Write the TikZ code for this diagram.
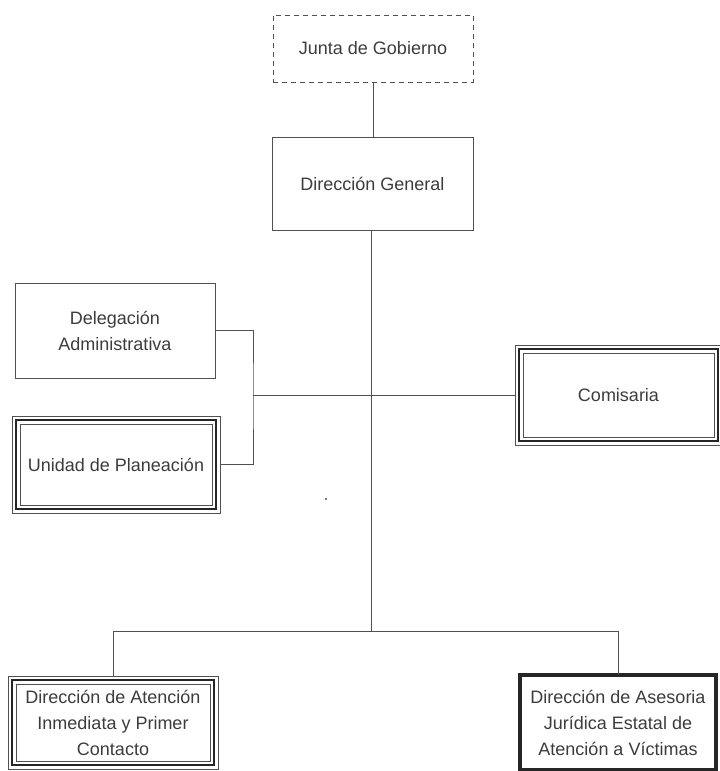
\documentclass[tikz,border=0pt]{standalone}
\usepackage{fontspec}
\setmainfont{Liberation Sans}
\definecolor{ln}{HTML}{505050}
\definecolor{tx}{HTML}{3C3C3C}
\begin{document}
\begin{tikzpicture}[x=1pt,y=-1pt,
  box/.style={draw=ln,line width=0.9pt,rectangle,inner sep=0pt,outer sep=0pt,
    align=center,text=tx,font=\fontsize{18}{26}\selectfont},
  conn/.style={draw=ln,line width=0.9pt},
  thickline/.style={draw=black!85,line width=2pt},
  thinline/.style={draw=ln,line width=0.7pt}]
\useasboundingbox (0,0) rectangle (720,771);

\node[box,dashed,dash pattern=on 5pt off 4pt,minimum width=200pt,minimum height=67pt] (junta) at (373,48.5) {Junta de Gobierno};
\node[box,minimum width=201pt,minimum height=93pt] (dg) at (372.5,183.5) {Dirección General};
\node[box,minimum width=200pt,minimum height=95pt] (del) at (115,330.5) {Delegación\\Administrativa};
\node[box,thinline,minimum width=208pt,minimum height=97pt] (uni) at (116,464.5) {Unidad de Planeación};
\node[box,thinline,minimum width=207pt,minimum height=100pt] (com) at (618.5,395) {Comisaria};
\node[box,thinline,minimum width=210pt,minimum height=93pt] (atn) at (113,722.5) {Dirección de Atención\\Inmediata y Primer\\Contacto};
\node[box,draw=black!85,line width=3.5pt,minimum width=196pt,minimum height=95pt] (ase) at (618,722.5) {Dirección de Asesoria\\Jurídica Estatal de\\Atención a Víctimas};

% triple borders
\foreach \n in {uni,com,atn}{
  \draw[thickline] ([shift={(4,4)}]\n.north west) rectangle ([shift={(-4,-4)}]\n.south east);
  \draw[thinline] ([shift={(8,8)}]\n.north west) rectangle ([shift={(-8,-8)}]\n.south east);
}

\coordinate (brk) at (253,395);
\coordinate (bus) at (371,631);

\draw[conn] (junta.south) -- (junta.south |- dg.north);
\draw[conn] (dg.south -| bus) -- (bus);
\draw[conn] (del.east) -| (brk) |- (uni.east);
\draw[conn] (brk) -- (com.west);
\draw[conn] (atn.north |- bus) -- (ase.north |- bus);
\draw[conn] (atn.north |- bus) -- (atn.north);
\draw[conn] (ase.north |- bus) -- (ase.north);

\fill[ln] (326,499) circle (1.2pt);
\end{tikzpicture}
\end{document}
